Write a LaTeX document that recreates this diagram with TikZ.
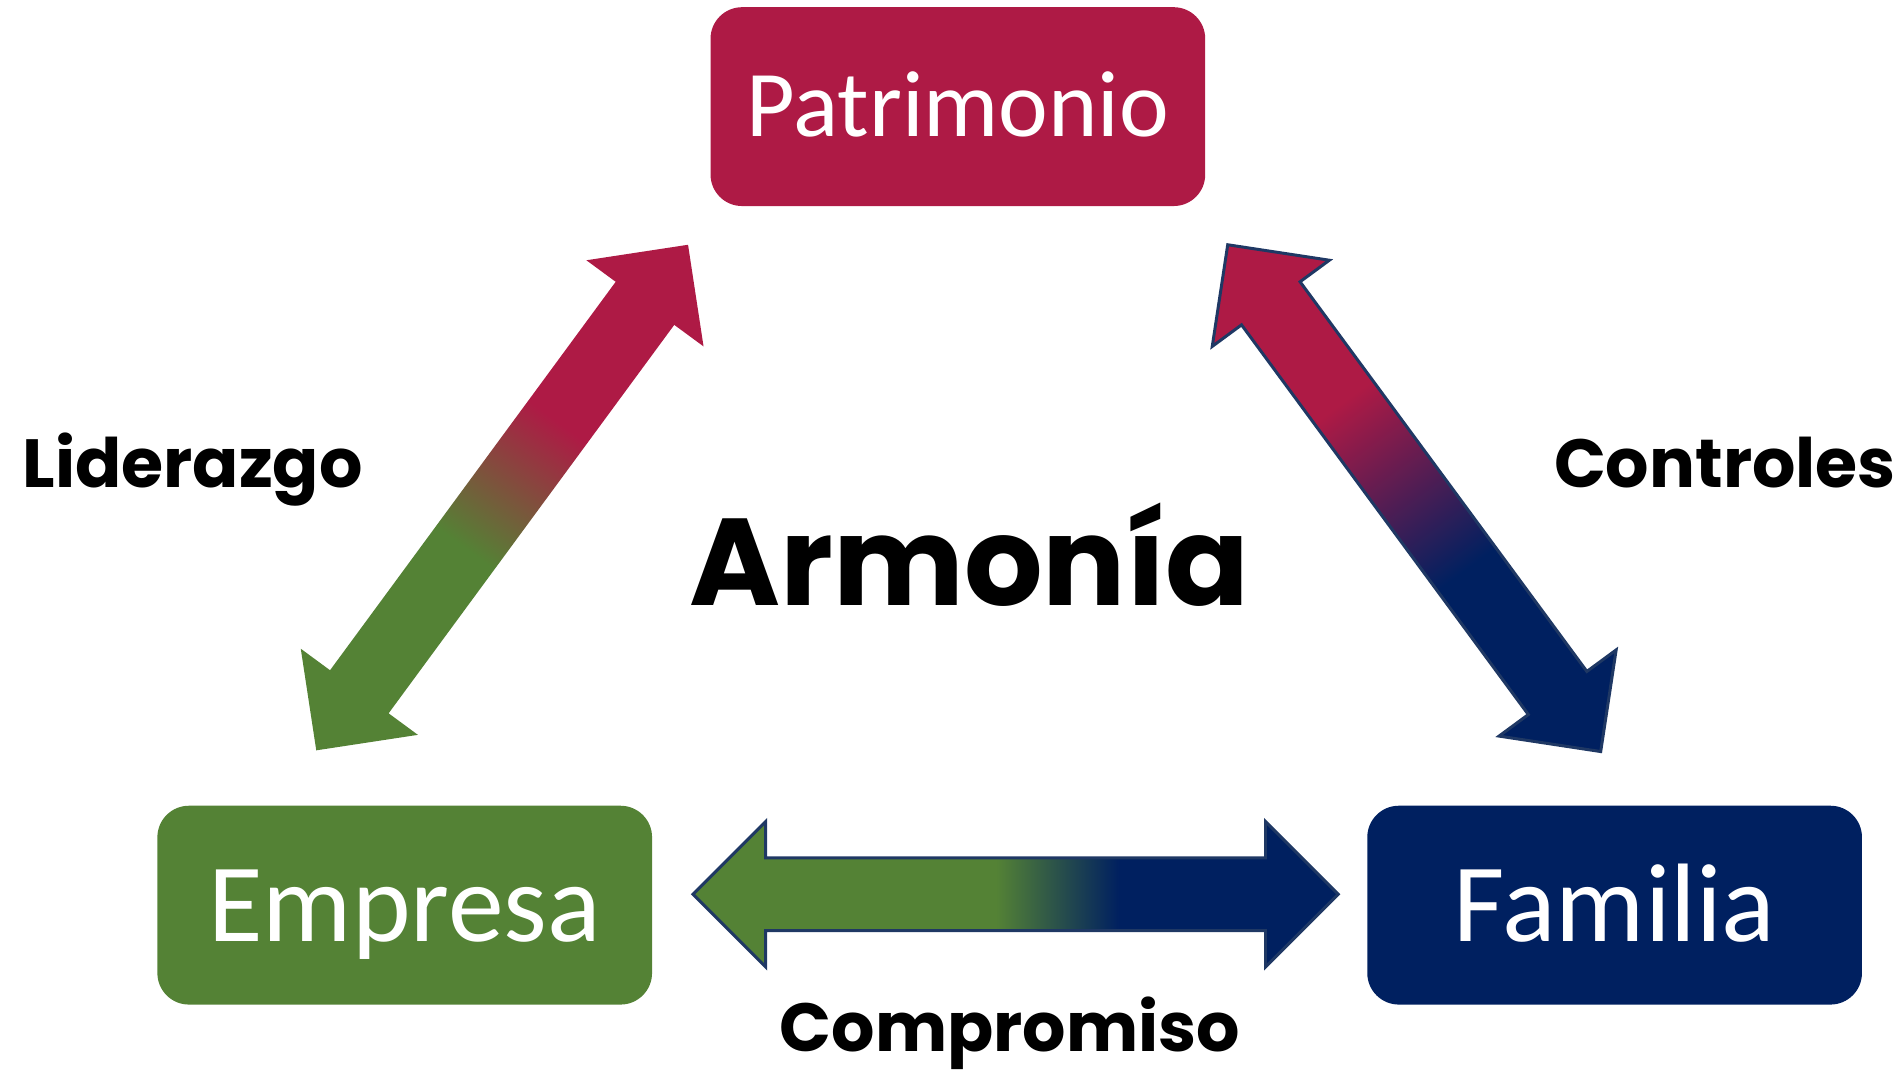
\documentclass[tikz,border=0pt]{standalone}
\usepackage{fontspec}
\setmainfont{Carlito}
\newfontfamily\tagfont{Poppins}
\usepackage{tikz}
\usetikzlibrary{calc}

\definecolor{patred}{HTML}{AE1A45}
\definecolor{empgreen}{HTML}{548235}
\definecolor{famblue}{HTML}{002060}
\definecolor{rimblue}{HTML}{1F3864}

\pgfdeclarehorizontalshading{empat}{100bp}{color(0bp)=(empgreen); color(45bp)=(empgreen); color(57.5bp)=(patred); color(100bp)=(patred)}
\pgfdeclarehorizontalshading{fampat}{100bp}{color(0bp)=(famblue); color(43bp)=(famblue); color(59.5bp)=(patred); color(100bp)=(patred)}
\pgfdeclarehorizontalshading{empfam}{100bp}{color(0bp)=(empgreen); color(48.5bp)=(empgreen); color(58bp)=(famblue); color(100bp)=(famblue)}

% block arrow with two heads from #1 to #2
\newcommand{\bandarrow}[3]{%
  \path let \p1=($(#2)-(#1)$) in \pgfextra{%
    \pgfmathparse{atan2(\y1,\x1)}\xdef\bandang{\pgfmathresult}%
    \pgfmathparse{veclen(\x1,\y1)/0.284528}\xdef\bandlen{\pgfmathresult}};
  \begin{scope}[transform canvas={shift={(#1)},rotate=\bandang}]
    \path[shade,#3] (0,0) -- (60,-60) -- (60,-30) -- (\bandlen-60,-30) -- (\bandlen-60,-60)
      -- (\bandlen,0) -- (\bandlen-60,60) -- (\bandlen-60,30) -- (60,30) -- (60,60) -- cycle;
  \end{scope}}

\begin{document}
\begin{tikzpicture}[x=0.01cm, y=-0.01cm,
  box/.style={rectangle, rounded corners=0.26cm, minimum width=4.08cm, minimum height=1.64cm, text=white, inner sep=0pt, text depth=0pt},
  tag/.style={anchor=base, inner sep=0pt, font=\tagfont\bfseries\fontsize{16}{20}\selectfont}]
\useasboundingbox (0,0) rectangle (1568,886);

% the three boxes
\node[box, fill=patred, text height=14.2pt, font=\fontsize{22.1}{26}\selectfont] (pat) at (790.5,88) {Patrimonio};
\node[box, fill=empgreen, text height=16.9pt, font=\fontsize{26.2}{30}\selectfont] (emp) at (334,747) {Empresa};
\node[box, fill=famblue, text height=16.9pt, font=\fontsize{26.2}{30}\selectfont] (fam) at (1332.5,747) {Familia};

% arrow ends
\coordinate (ep) at ($(emp.north)+(-73,-45)$);
\coordinate (pe) at ($(pat.south)+(-222.5,31)$);
\coordinate (pf) at ($(pat.south)+(222.5,31)$);
\coordinate (fp) at ($(fam.north)+(-11.5,-44)$);
\coordinate (ef) at ($(emp.east)+(33,-9)$);
\coordinate (fe) at ($(fam.west)+(-23,-9)$);

\bandarrow{ep}{pe}{shading=empat}
\bandarrow{fp}{pf}{shading=fampat, draw=rimblue, line width=0.7pt}
\bandarrow{ef}{fe}{shading=empfam, draw=rimblue, line width=0.7pt}

% labels
\node[tag] (lid) at (159,402) {Liderazgo};
\node[tag] (con) at (1423.5,402) {Controles};
\node[tag] (com) at (833.5,868) {Compromiso};
\node[anchor=base, inner sep=0pt, font=\tagfont\bfseries\fontsize{29}{34}\selectfont] (arm) at (800,500) {Armonía};
\end{tikzpicture}
\end{document}
